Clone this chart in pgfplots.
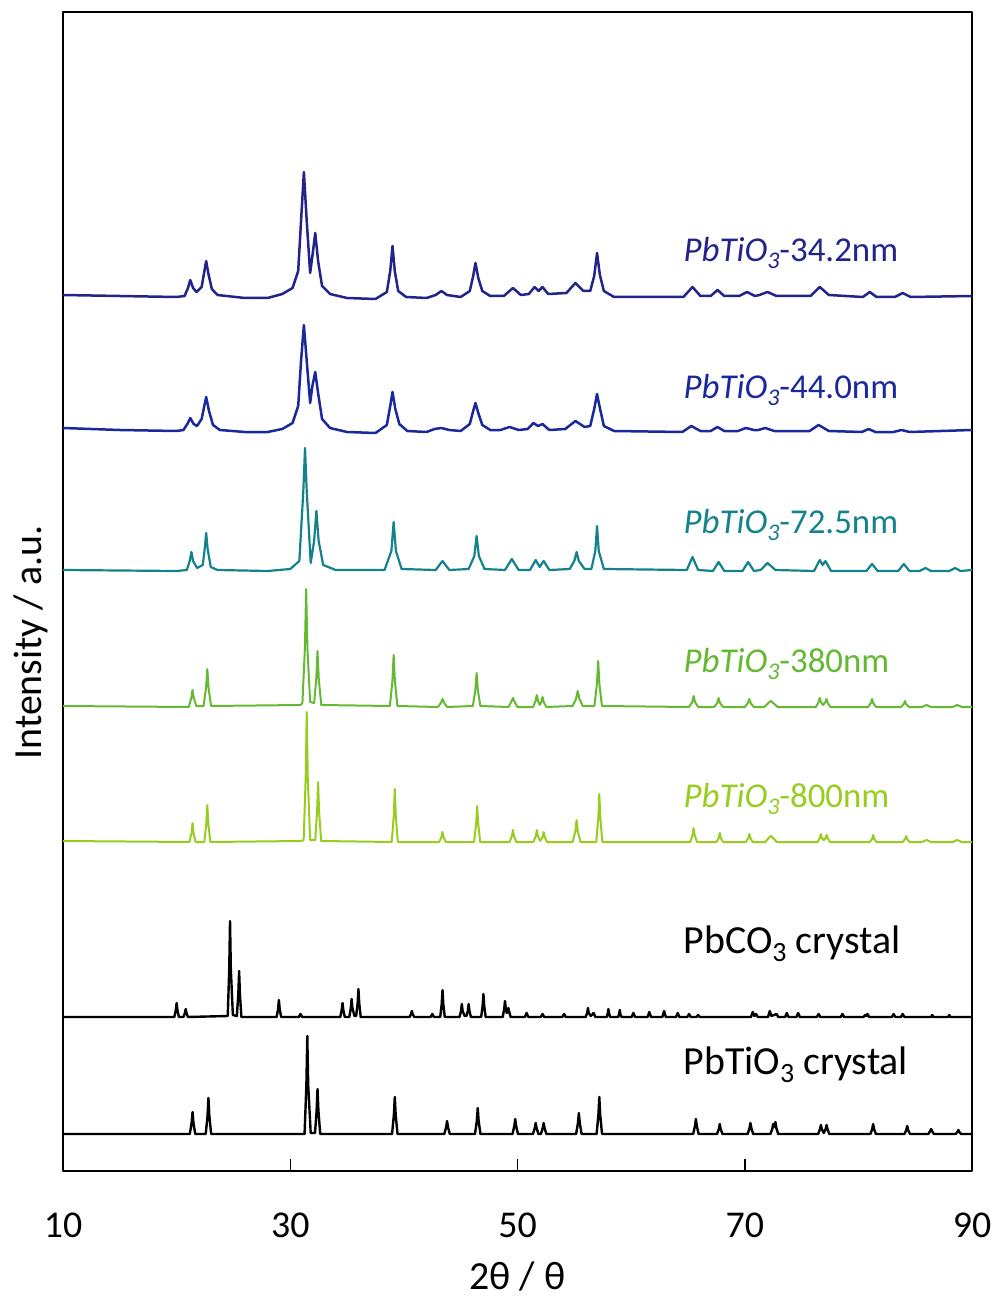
\documentclass[border=0pt]{standalone}
\usepackage{fontspec}
\setmainfont{Carlito}
\usepackage{pgfplots}
\pgfplotsset{compat=1.18}
\definecolor{cA}{RGB}{35,35,140}
\definecolor{cB}{RGB}{25,40,155}
\definecolor{cC}{RGB}{20,130,140}
\definecolor{cD}{RGB}{100,185,50}
\definecolor{cE}{RGB}{150,205,30}
\newcommand{\sub}[1]{\raisebox{-8bp}{\fontsize{28}{30}\selectfont #1}}
\newcommand{\subs}[1]{\raisebox{-7bp}{\fontsize{24}{26}\selectfont #1}}
\newcommand{\bigfont}{\fontsize{40}{48}\selectfont}
\newcommand{\midfont}{\fontsize{35}{42}\selectfont}
\begin{document}
\begin{tikzpicture}
\useasboundingbox (-63bp,-129bp) rectangle (934bp,1171bp);
\begin{axis}[
  at={(0,0)}, anchor=south west,
  scale only axis, width=909bp, height=1159bp,
  xmin=10, xmax=90, ymin=0, ymax=1159,
  xtick={10,30,50,70,90}, ytick=\empty,
  xtick pos=bottom, tick align=inside, major tick length=12bp,
  every tick/.style={black, line width=1.5bp},
  axis line style={black, line width=1.8bp},
  /pgf/number format/assume math mode=true,
  xticklabel style={font=\fontsize{38}{44}\selectfont, anchor=north, inner sep=0pt, yshift=-42bp},
  xlabel={2θ / θ},
  xlabel style={font=\bigfont, at={(axis description cs:0.5,0)}, anchor=north, inner sep=0pt, yshift=-91bp},
  ylabel={Intensity / a.u.},
  ylabel style={font=\bigfont, at={(axis description cs:-0.0352,0.456)}, anchor=center, inner sep=0pt},
  no markers, line join=round,
]
% PbTiO3-34.2nm
\addplot[cA, line width=2.5bp] coordinates {
(10,876) (15,875) (20,874) (20.7,875) (21.0,883) (21.2,891) (21.45,883) (21.75,879) (22.2,884) (22.4,897) (22.6,910) (22.8,897) (23.1,882) (23.6,876) (26,873) (28,873) (29.3,877) (30.2,883) (30.7,900) (30.95,950) (31.2,999) (31.45,950) (31.75,898) (31.95,915) (32.2,938) (32.45,910) (32.8,885) (33.5,877) (35,873) (37.5,872) (38.5,879) (38.8,900) (39.0,925) (39.2,900) (39.5,880) (40.2,874) (42,873) (42.8,876) (43.3,880) (43.8,876) (45,874) (45.8,880) (46.1,895) (46.3,908) (46.55,893) (46.9,880) (47.6,875) (48.8,875) (49.6,883) (50.3,876) (51,877) (51.5,884) (51.85,880) (52.2,884) (52.7,877) (54.3,878) (55.1,888) (55.8,880) (56.4,880) (56.75,895) (57.0,918) (57.25,896) (57.6,880) (58.5,874) (64.6,874) (65.4,884) (66.1,875) (67.0,875) (67.6,881) (68.2,875) (69.5,875) (70.2,879) (70.9,875) (71.3,876) (72.0,879) (72.8,875) (75.8,875) (76.6,884) (77.4,876) (80.4,874) (81.0,879) (81.6,874) (83.2,874) (83.9,878) (84.6,874) (90,875)
};
% PbTiO3-44.0nm
\addplot[cB, line width=2.5bp] coordinates {
(10,743) (15,741) (20,740) (20.6,741) (21.0,748) (21.2,753) (21.5,747) (21.8,745) (22.2,752) (22.4,763) (22.6,774) (22.85,760) (23.2,746) (23.8,741) (26,739) (28,739) (29.3,742) (30.2,748) (30.7,765) (30.95,810) (31.2,846) (31.45,810) (31.75,768) (31.95,785) (32.2,799) (32.45,778) (32.8,752) (33.5,743) (35,739) (37.5,738) (38.5,746) (38.8,765) (39.0,779) (39.25,762) (39.6,747) (40.3,740) (42,739) (42.7,742) (43.3,743) (44.0,741) (45.0,740) (45.8,747) (46.1,760) (46.3,768) (46.55,758) (46.9,746) (47.6,741) (48.5,741) (49.3,744) (50.1,741) (50.9,742) (51.4,748) (51.8,745) (52.2,747) (52.8,741) (54.2,742) (55.1,750) (55.9,744) (56.4,745) (56.75,762) (57.0,777) (57.25,763) (57.6,745) (58.5,740) (64.5,739) (65.3,745) (66.1,740) (67.0,740) (67.6,744) (68.2,740) (69.4,740) (70.1,743) (70.8,741) (71.2,741) (71.8,743) (72.6,740) (75.7,740) (76.5,746) (77.4,740) (80.3,739) (80.9,742) (81.5,739) (83.1,739) (83.8,741) (84.5,739) (90,741)
};
% PbTiO3-72.5nm
\addplot[cC, line width=2.2bp] coordinates {
(10,601) (20,600) (20.9,601) (21.15,610) (21.3,619) (21.45,610) (21.8,603) (22.3,606) (22.47,622) (22.6,638) (22.73,622) (23.0,604) (23.6,601) (28,600) (30.0,602) (30.8,610) (31.15,680) (31.3,723) (31.45,680) (31.8,608) (32.1,630) (32.3,660) (32.5,630) (32.9,606) (34,601) (38.3,601) (38.9,620) (39.1,649) (39.3,620) (39.8,602) (42.8,601) (43.4,610) (44.0,601) (45.7,602) (46.2,615) (46.4,635) (46.6,615) (47.1,602) (48.9,601) (49.5,612) (50.1,601) (51.1,601) (51.6,611) (51.95,604) (52.3,610) (52.8,601) (54.6,602) (55.0,610) (55.2,619) (55.4,610) (55.9,602) (56.5,602) (56.85,620) (57.0,645) (57.15,620) (57.6,602) (64.9,601) (65.4,614) (65.9,601) (67.2,600) (67.7,609) (68.2,600) (69.8,600) (70.3,609) (70.8,600) (71.4,601) (72.0,608) (72.7,601) (76.1,600) (76.6,611) (76.85,606) (77.1,610) (77.6,600) (80.7,600) (81.2,607) (81.7,600) (83.5,600) (84.0,607) (84.5,600) (85.4,600) (85.9,603) (86.4,600) (88.0,600) (88.5,603) (89.0,600) (90,601)
};
% PbTiO3-380nm
\addplot[cD, line width=2bp] coordinates {
(10,465) (21.07,464) (21.29,473) (21.4,481) (21.51,473) (21.73,465) (22.37,465) (22.59,483) (22.7,502) (22.81,483) (23.03,465) (30.9,466) (31.07,468) (31.29,523) (31.4,582) (31.51,523) (31.75,469) (32.1,468) (32.29,492) (32.4,520) (32.51,492) (32.73,466) (38.77,465) (38.99,490) (39.1,516) (39.21,490) (39.43,465) (43.0,464) (43.25,468) (43.4,472) (43.55,468) (43.8,464) (46.07,465) (46.29,481) (46.4,498) (46.51,481) (46.73,465) (49.2,464) (49.45,469) (49.6,473) (49.75,469) (50.0,464) (51.37,464) (51.59,470) (51.7,476) (51.81,470) (51.95,466) (52.09,469) (52.2,474) (52.31,469) (52.53,464) (54.85,465) (55.15,472) (55.3,480) (55.45,472) (55.75,465) (56.77,465) (56.99,487) (57.1,510) (57.21,487) (57.43,465) (65.1,464) (65.38,469) (65.5,475) (65.62,469) (65.9,464) (67.3,464) (67.58,468) (67.7,473) (67.82,468) (68.1,464) (70.0,464) (70.28,468) (70.4,472) (70.52,468) (70.8,464) (71.7,464) (72.0,467) (72.15,469) (72.3,470) (72.5,468) (72.9,464) (76.25,464) (76.5,469) (76.6,473) (76.7,469) (76.9,466) (77.1,469) (77.2,472) (77.3,468) (77.55,464) (80.85,464) (81.1,468) (81.2,472) (81.3,468) (81.55,464) (83.75,464) (84.0,467) (84.1,470) (84.2,467) (84.45,464) (85.6,464) (86.0,466) (86.4,464) (88.3,464) (88.7,466) (89.1,464) (90,464)
};
% PbTiO3-800nm
\addplot[cE, line width=2bp] coordinates {
(10,330) (21.13,329) (21.31,338) (21.4,348) (21.49,338) (21.67,329) (22.43,329) (22.61,347) (22.7,366) (22.79,347) (22.97,329) (31.0,330) (31.18,331) (31.36,394) (31.45,459) (31.54,394) (31.75,331) (32.2,331) (32.36,359) (32.45,389) (32.54,359) (32.72,330) (38.93,329) (39.11,355) (39.2,382) (39.29,355) (39.47,329) (43.1,329) (43.31,334) (43.4,339) (43.49,334) (43.7,329) (46.18,329) (46.36,347) (46.45,365) (46.54,347) (46.72,329) (49.3,329) (49.51,335) (49.6,341) (49.69,335) (49.9,329) (51.4,329) (51.61,335) (51.7,341) (51.79,335) (52.0,330) (52.21,334) (52.3,339) (52.39,334) (52.6,329) (54.85,329) (55.1,340) (55.2,351) (55.3,340) (55.55,329) (56.93,329) (57.11,353) (57.2,377) (57.29,353) (57.47,329) (65.2,329) (65.41,336) (65.5,343) (65.59,336) (65.8,329) (67.5,329) (67.71,333) (67.8,338) (67.89,333) (68.1,329) (70.1,329) (70.31,333) (70.4,337) (70.49,333) (70.7,329) (71.8,329) (72.1,333) (72.3,335) (72.5,333) (72.8,329) (76.4,329) (76.61,333) (76.7,337) (76.79,333) (76.95,331) (77.11,333) (77.2,336) (77.29,333) (77.5,329) (81.0,329) (81.21,332) (81.3,336) (81.39,332) (81.6,329) (83.9,329) (84.11,332) (84.2,335) (84.29,332) (84.5,329) (85.6,329) (86.0,331) (86.4,329) (88.3,329) (88.7,331) (89.1,329) (90,329)
};
% PbCO3 crystal
\addplot[black, line width=2.4bp] coordinates {
(10,154) (19.8,154) (19.93,161) (20.0,168) (20.07,161) (20.2,154) (20.6,154) (20.73,158) (20.8,162) (20.87,158) (21.0,154) (24.5,155) (24.63,202) (24.7,250) (24.77,202) (24.95,156) (25.3,155) (25.43,177) (25.5,200) (25.57,177) (25.7,154) (28.8,154) (28.93,162) (29.0,171) (29.07,162) (29.2,154) (30.75,154) (30.9,157) (31.05,154) (34.4,154) (34.53,161) (34.6,168) (34.67,161) (34.8,154) (35.2,154) (35.33,163) (35.4,172) (35.47,163) (35.65,155) (35.8,155) (35.93,168) (36.0,182) (36.07,168) (36.2,154) (40.5,154) (40.63,157) (40.7,160) (40.77,157) (40.9,154) (42.35,154) (42.5,157) (42.65,154) (43.2,154) (43.33,167) (43.4,181) (43.47,167) (43.6,154) (44.9,154) (45.03,160) (45.1,167) (45.17,160) (45.35,155) (45.5,155) (45.63,160) (45.7,167) (45.77,160) (45.9,154) (46.8,154) (46.93,165) (47.0,177) (47.07,165) (47.2,154) (48.7,154) (48.83,162) (48.9,170) (48.97,162) (49.05,158) (49.13,160) (49.2,163) (49.27,159) (49.4,154) (50.65,154) (50.8,158) (50.95,154) (52.05,154) (52.2,157) (52.35,154) (53.95,154) (54.1,157) (54.25,154) (56.0,154) (56.13,158) (56.2,163) (56.27,158) (56.45,155) (56.7,158) (56.85,154) (57.85,154) (57.95,158) (58.0,162) (58.05,158) (58.15,154) (58.85,154) (58.95,157) (59.0,161) (59.05,157) (59.15,154) (60.05,154) (60.2,158) (60.35,154) (61.45,154) (61.6,159) (61.75,154) (62.75,154) (62.9,160) (63.05,154) (63.95,154) (64.1,158) (64.25,154) (64.95,154) (65.1,157) (65.25,154) (65.75,154) (65.9,156) (66.05,154) (70.55,154) (70.7,159) (70.85,155) (71.0,157) (71.15,154) (72.05,154) (72.2,160) (72.35,155) (72.8,157) (72.95,154) (73.55,154) (73.7,158) (73.85,154) (74.55,154) (74.7,158) (74.85,154) (76.35,154) (76.5,157) (76.65,154) (78.45,154) (78.6,157) (78.75,154) (80.45,154) (80.6,156) (80.7,155) (80.8,157) (80.95,154) (82.95,154) (83.1,157) (83.25,154) (83.75,154) (83.9,157) (84.05,154) (86.4,154) (86.5,156) (86.6,154) (87.9,154) (88.0,156) (88.1,154) (90,154)
};
% PbTiO3 crystal
\addplot[black, line width=2.4bp] coordinates {
(10,37) (21.16,37) (21.32,48) (21.4,59) (21.48,48) (21.64,37) (22.56,37) (22.72,55) (22.8,73) (22.88,55) (23.04,37) (31.26,37) (31.42,86) (31.5,135) (31.58,86) (31.8,38) (32.18,38) (32.32,60) (32.4,82) (32.48,60) (32.64,37) (38.96,37) (39.12,56) (39.2,74) (39.28,56) (39.44,37) (43.56,37) (43.72,44) (43.8,50) (43.88,44) (44.04,37) (46.26,37) (46.42,50) (46.5,63) (46.58,50) (46.74,37) (49.56,37) (49.72,45) (49.8,52) (49.88,45) (50.04,37) (51.36,37) (51.52,43) (51.6,48) (51.68,43) (51.84,37) (52.06,37) (52.22,43) (52.3,48) (52.38,43) (52.54,37) (55.16,37) (55.32,48) (55.4,58) (55.48,48) (55.64,37) (56.96,37) (57.12,56) (57.2,74) (57.28,56) (57.44,37) (65.46,37) (65.62,45) (65.7,52) (65.78,45) (65.94,37) (67.56,37) (67.72,42) (67.8,47) (67.88,42) (68.04,37) (70.26,37) (70.42,43) (70.5,48) (70.58,43) (70.74,37) (72.26,37) (72.42,42) (72.5,47) (72.58,44) (72.7,49) (72.78,43) (72.94,37) (76.46,37) (76.62,42) (76.7,46) (76.78,42) (76.95,38) (77.12,42) (77.2,46) (77.28,42) (77.44,37) (81.06,37) (81.22,42) (81.3,47) (81.38,42) (81.54,37) (84.06,37) (84.22,41) (84.3,45) (84.38,41) (84.54,37) (86.16,37) (86.32,40) (86.4,42) (86.48,40) (86.64,37) (88.56,37) (88.72,39) (88.8,41) (88.88,39) (89.04,37) (90,37)
};
\node[anchor=base west, inner sep=0pt, text=cA, font=\midfont] at (axis cs:64.6,910) {\textit{PbTiO\subs{3}}-34.2nm};
\node[anchor=base west, inner sep=0pt, text=cB, font=\midfont] at (axis cs:64.6,773) {\textit{PbTiO\subs{3}}-44.0nm};
\node[anchor=base west, inner sep=0pt, text=cC, font=\midfont] at (axis cs:64.6,638) {\textit{PbTiO\subs{3}}-72.5nm};
\node[anchor=base west, inner sep=0pt, text=cD, font=\midfont] at (axis cs:64.6,499) {\textit{PbTiO\subs{3}}-380nm};
\node[anchor=base west, inner sep=0pt, text=cE, font=\midfont] at (axis cs:64.6,364) {\textit{PbTiO\subs{3}}-800nm};
\node[anchor=base west, inner sep=0pt, text=black, font=\bigfont] at (axis cs:64.6,218) {PbCO\sub{3} crystal};
\node[anchor=base west, inner sep=0pt, text=black, font=\bigfont] at (axis cs:64.6,97) {PbTiO\sub{3} crystal};
\end{axis}
\end{tikzpicture}
\end{document}
